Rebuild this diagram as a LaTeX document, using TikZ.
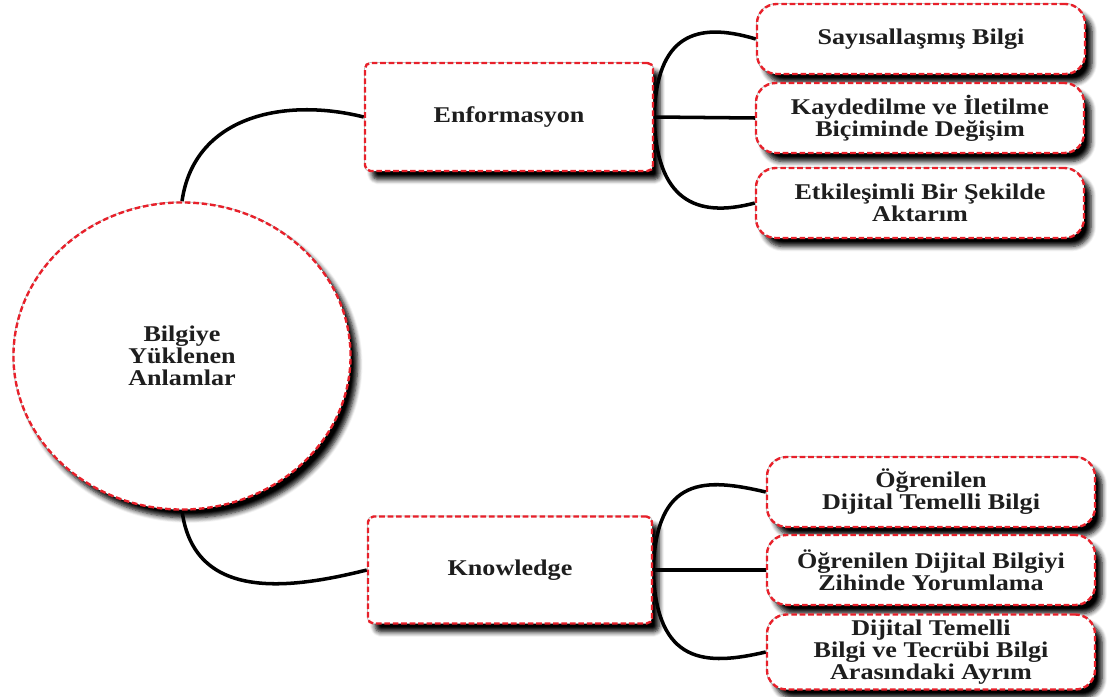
\documentclass[tikz,border=0pt]{standalone}
\usepackage{fontspec}
\setmainfont{Liberation Serif}[FakeStretch=1.16]
\usetikzlibrary{shapes.geometric,shadows.blur,backgrounds}
\definecolor{txt}{HTML}{1E1E1E}
\definecolor{dashred}{HTML}{E8202A}
\tikzset{
  base/.style={draw=dashred, dashed, dash pattern=on 4pt off 2pt, line width=1.7pt,
    preaction={draw=gray!55, solid, line width=1.3pt},
    fill=white, text=txt, align=center, inner sep=0pt,
    font=\fontsize{16}{15.6}\selectfont\bfseries,
    blur shadow={shadow xshift=5pt, shadow yshift=-6pt, shadow blur steps=6, shadow blur radius=3.5pt, shadow opacity=100}},
  rootnode/.style={base, ellipse, minimum width=8.425cm, minimum height=7.675cm},
  midbox/.style={base, rectangle, rounded corners=4pt, minimum width=7.2cm, minimum height=2.7cm},
  leafbox/.style={base, rectangle, rounded corners=14pt, minimum width=8.2cm, minimum height=1.75cm},
  conn/.style={draw=black, line width=2.5pt},
}
\begin{document}
\begin{tikzpicture}[x=0.025cm, y=-0.025cm]
\useasboundingbox (0,0) rectangle (1107,697);
\node[rootnode] (root) at (182,356) {Bilgiye\\Yüklenen\\Anlamlar};
\node[midbox] (enf) at (509,117) {Enformasyon};
\node[midbox, minimum width=7.1cm, minimum height=2.675cm] (know) at (510,570) {Knowledge};
\node[leafbox] (l1) at (921,39) {Sayısallaşmış Bilgi};
\node[leafbox] (l2) at (920,118) {Kaydedilme ve İletilme\\Biçiminde Değişim};
\node[leafbox] (l3) at (920,203) {Etkileşimli Bir Şekilde\\Aktarım};
\node[leafbox] (k1) at (931,492) {Öğrenilen\\Dijital Temelli Bilgi};
\node[leafbox] (k2) at (931,570) {Öğrenilen Dijital Bilgiyi\\Zihinde Yorumlama};
\node[leafbox, minimum height=1.875cm] (k3) at (931,652) {Dijital Temelli\\Bilgi ve Tecrübi Bilgi\\Arasındaki Ayrım};
\begin{pgfonlayer}{background}
\draw[conn] (root.north) .. controls +(12,-85) and +(-80,-20) .. (enf.west);
\draw[conn] (root.south) .. controls +(12,90) and +(-80,20) .. (know.west);
\draw[conn] (enf.east) -- (l2.west);
\draw[conn] (enf.east) .. controls +(2,-82) and +(-60,-18) .. (l1.west);
\draw[conn] (enf.east) .. controls +(2,82) and +(-60,16) .. (l3.west);
\draw[conn] (know.east) -- (k2.west);
\draw[conn] (know.east) .. controls +(3,-95) and +(-60,-14) .. (k1.west);
\draw[conn] (know.east) .. controls +(3,95) and +(-60,14) .. (k3.west);
\end{pgfonlayer}
\end{tikzpicture}
\end{document}
